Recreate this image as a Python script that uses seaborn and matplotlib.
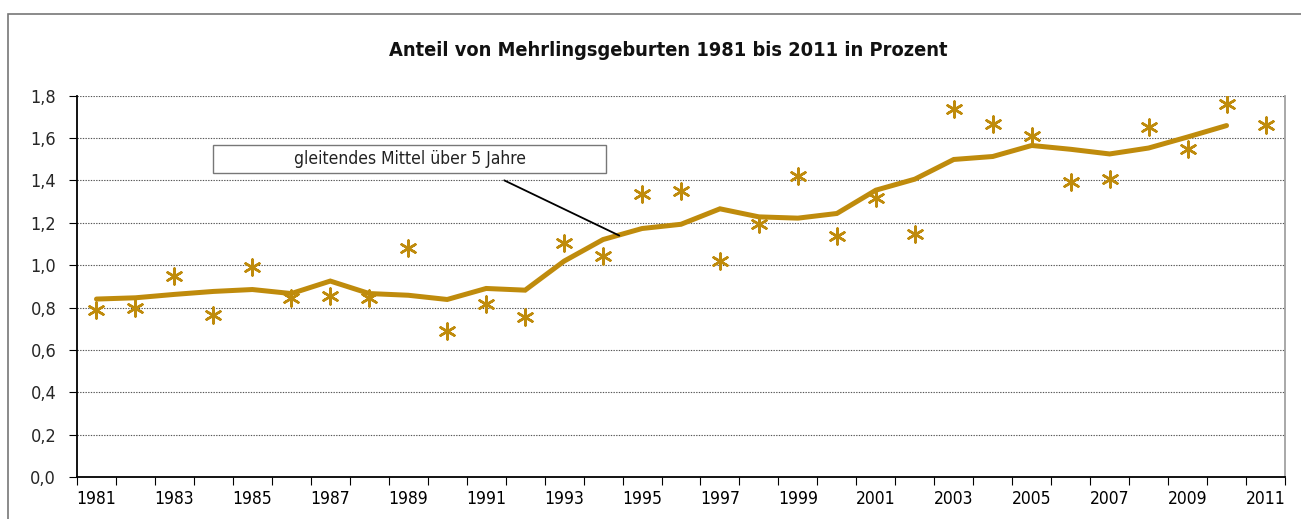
import matplotlib
matplotlib.use("Agg")
import matplotlib.pyplot as plt
import matplotlib.font_manager as fm
from matplotlib.patches import Rectangle
from matplotlib.ticker import FixedLocator, FuncFormatter
import seaborn as sns
import pandas as pd
import numpy as np

years = list(range(1981, 2012))
share = [0.79, 0.80, 0.948, 0.764, 0.992, 0.843, 0.854, 0.843, 1.079, 0.689,
         0.816, 0.757, 1.107, 1.044, 1.338, 1.351, 1.020, 1.192, 1.421, 1.137,
         1.319, 1.149, 1.737, 1.667, 1.608, 1.393, 1.407, 1.654, 1.550, 1.759,
         1.662]
ma_years = list(range(1981, 2011))
moving_avg = [0.840, 0.846, 0.862, 0.876, 0.885, 0.866, 0.925, 0.866, 0.858, 0.838,
              0.890, 0.882, 1.019, 1.121, 1.173, 1.193, 1.266, 1.228, 1.222, 1.244,
              1.354, 1.406, 1.499, 1.513, 1.565, 1.547, 1.525, 1.553, 1.605, 1.659]
yticks = [0.0, 0.2, 0.4, 0.6, 0.8, 1.0, 1.2, 1.4, 1.6, 1.8]
xlabels = list(range(1981, 2012, 2))
title = "Anteil von Mehrlingsgeburten 1981 bis 2011 in Prozent"
note = "gleitendes Mittel über 5 Jahre"

sns.set_theme(style="white")
names = {f.name for f in fm.fontManager.ttflist}
if "Liberation Sans Narrow" in names:
    plt.rcParams["font.family"] = ["Liberation Sans Narrow", "DejaVu Sans"]
else:
    plt.rcParams["font.family"] = ["DejaVu Sans"]
    plt.rcParams["font.stretch"] = "condensed"

gold = "#BF8B0C"

fig = plt.figure(figsize=(13.01, 5.19), dpi=100)
W, H = 1301, 519
ax = fig.add_axes([77 / W, 1 - 477 / H, (1285 - 77) / W, (477 - 95.7) / H])

df_pts = pd.DataFrame({"year": years, "share": share})
df_ma = pd.DataFrame({"year": ma_years, "ma": moving_avg})

sns.lineplot(data=df_ma, x="year", y="ma", ax=ax, color=gold, linewidth=3.6,
             solid_joinstyle="miter", zorder=3)
sns.scatterplot(data=df_pts, x="year", y="share", ax=ax, marker=(6, 2, 0),
                s=130, color=gold, edgecolor=gold, linewidth=1.8, zorder=4)

ax.set_xlim(1980.5, 2011.5)
ax.set_ylim(0, 1.8)
ax.set_xlabel("")
ax.set_ylabel("")

for v in yticks[1:]:
    ax.axhline(v, color="#555555", linestyle=(0, (1.2, 1.2)), linewidth=0.8, zorder=1)

ax.set_yticks(yticks)
ax.yaxis.set_major_formatter(FuncFormatter(lambda v, p: f"{v:.1f}".replace(".", ",")))
ax.set_xticks(xlabels)
ax.set_xticklabels([str(y) for y in xlabels])
ax.xaxis.set_minor_locator(FixedLocator(np.arange(1980.5, 2012, 1)))
ax.tick_params(axis="x", which="major", length=0, labelsize=12.5, pad=9, colors="black")
ax.tick_params(axis="x", which="minor", length=6, width=0.8, color="black", direction="out", bottom=True)
ax.tick_params(axis="y", which="major", length=6, width=0.8, color="black", direction="out",
               left=True, labelsize=13, pad=9)

for s in ["left", "bottom"]:
    ax.spines[s].set_color("black")
    ax.spines[s].set_linewidth(1.3)
ax.spines["right"].set_color("#999999")
ax.spines["right"].set_linewidth(1.2)
ax.spines["top"].set_visible(False)

ax.annotate("", xy=(1994.48, 1.134), xytext=(1991.4, 1.406),
            arrowprops=dict(arrowstyle="-", color="black", lw=1.3), zorder=5)
ax.add_patch(Rectangle((1984.0, 1.434), 1994.07 - 1984.0, 1.566 - 1.434,
                       facecolor="white", edgecolor="#777777", linewidth=1.0, zorder=5))
ax.text(1989.04, 1.500, note, ha="center", va="center", fontsize=12.5, color="#222222", zorder=6)

fig.text(668 / W, 1 - 50 / H, title, ha="center", va="center", fontsize=14.3,
         fontweight="bold", color="#111111")

fig.patches.append(Rectangle((8 / W, -0.1), 1.2, 1 - 14 / H + 0.1, transform=fig.transFigure,
                             fill=False, edgecolor="#777777", linewidth=1.2))

fig.savefig("out.png", dpi=100)
